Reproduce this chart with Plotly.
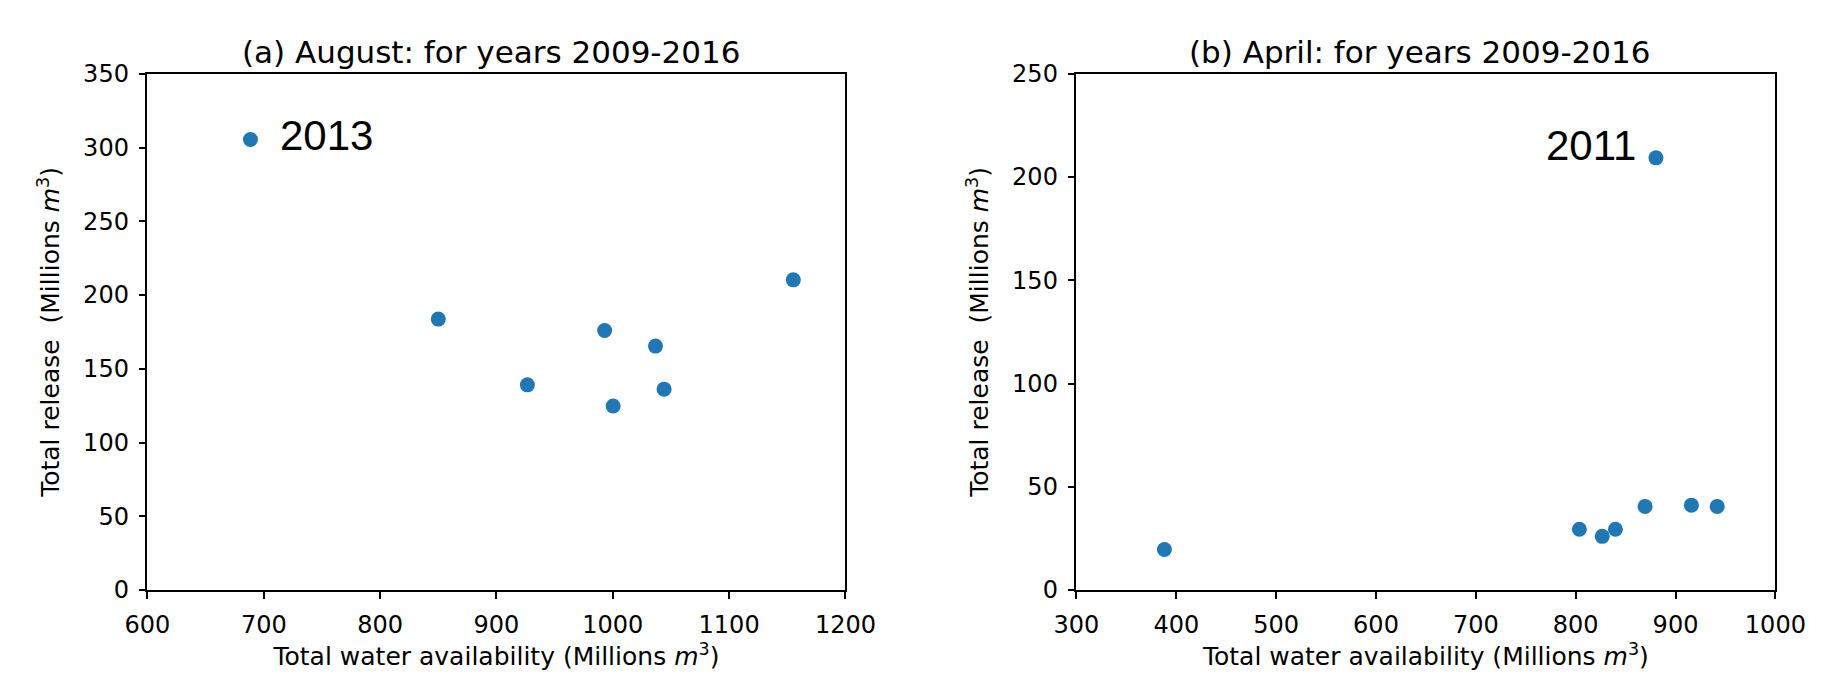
import plotly.graph_objects as go

# August (panel a)
aug_availability = [688.5, 850, 926.6, 993, 1000.3, 1036.7, 1044.1, 1155.2]
aug_release = [305.5, 183.7, 139.1, 176, 124.8, 165.4, 136.2, 210.3]
# April (panel b)
apr_availability = [388.1, 803.7, 826.6, 839.8, 869.5, 880.4, 915.9, 941.7]
apr_release = [19.6, 29.4, 26, 29.4, 40.5, 209.3, 41.1, 40.5]

titles = ["(a) August: for years 2009-2016", "(b) April: for years 2009-2016"]
aug_xticks = [600, 700, 800, 900, 1000, 1100, 1200]
aug_yticks = [0, 50, 100, 150, 200, 250, 300, 350]
apr_xticks = [300, 400, 500, 600, 700, 800, 900, 1000]
apr_yticks = [0, 50, 100, 150, 200, 250]

BLUE = "#1f77b4"
FONT = "DejaVu Sans"
W, H = 1844, 691

fig = go.Figure()
fig.add_trace(go.Scatter(x=aug_availability, y=aug_release, mode="markers",
                         marker=dict(color=BLUE, size=15), xaxis="x", yaxis="y",
                         showlegend=False))
fig.add_trace(go.Scatter(x=apr_availability, y=apr_release, mode="markers",
                         marker=dict(color=BLUE, size=15), xaxis="x2", yaxis="y2",
                         showlegend=False))

xlabel = "Total water availability (Millions <i>m</i><sup>3</sup>)"
ylabel = "Total release  (Millions <i>m</i><sup>3</sup>)"

ydom = [1 - 592 / H, 1 - 54 / H]
dom1 = [120 / W, 839 / W]
dom2 = [1077 / W, 1797 / W]

def axis(rng, ticks, dom, title, anchor, standoff):
    return dict(range=rng, tickvals=ticks, domain=dom, anchor=anchor,
                showline=True, linecolor="black", linewidth=1.5, mirror=True,
                ticks="outside", ticklen=7, tickwidth=1.5, tickcolor="black",
                showgrid=False, zeroline=False, ticklabelstandoff=5,
                tickfont=dict(family=FONT, size=24, color="black"),
                title=dict(text=title, standoff=standoff,
                           font=dict(family=FONT, size=25, color="black")))

fig.update_layout(
    width=W, height=H,
    margin=dict(l=0, r=0, t=0, b=0),
    plot_bgcolor="white", paper_bgcolor="white",
    xaxis=axis([600, 1200], aug_xticks, dom1, xlabel, "y", 10),
    yaxis=axis([0, 350], aug_yticks, ydom, ylabel, "x", 16),
    xaxis2=axis([300, 1000], apr_xticks, dom2, xlabel, "y2", 10),
    yaxis2=axis([0, 250], apr_yticks, ydom, ylabel, "x2", 16),
)

for dom, t in zip([dom1, dom2], titles):
    fig.add_annotation(text=t, xref="paper", yref="paper",
                       x=(dom[0] + dom[1]) / 2 - 6 / W, y=1 - 31 / H,
                       xanchor="center", yanchor="middle", showarrow=False,
                       font=dict(family=FONT, size=31, color="black"))

fig.add_annotation(text="2013", xref="x", yref="y", x=712, y=308,
                   xanchor="left", yanchor="middle", showarrow=False,
                   font=dict(family="Liberation Sans", size=42, color="black"))
fig.add_annotation(text="2011", xref="x2", yref="y2", x=862, y=215.3,
                   xanchor="right", yanchor="middle", showarrow=False,
                   font=dict(family="Liberation Sans", size=42, color="black"))

fig.write_html("out.html")
